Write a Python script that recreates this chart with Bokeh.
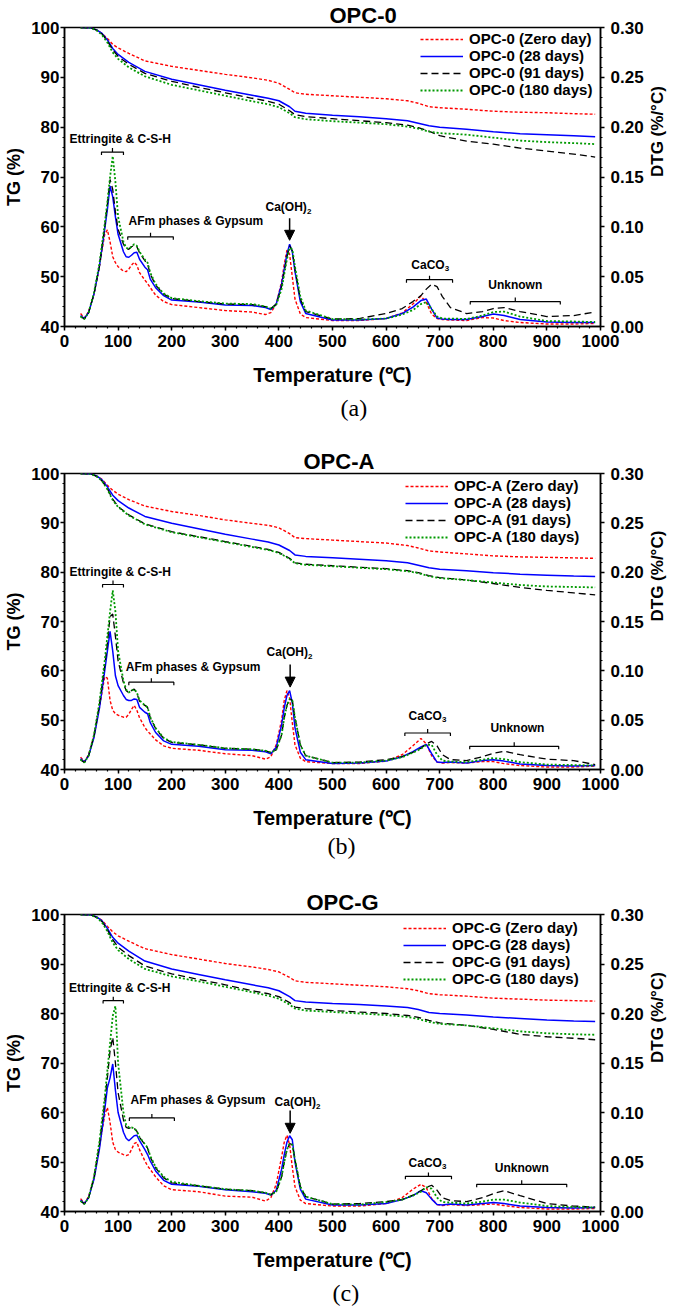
import math
from bokeh.plotting import figure
from bokeh.models import (Range1d, LinearAxis, FixedTicker, PrintfTickFormatter,
                          Label, Legend, LegendItem, Arrow, NormalHead, Title)
from bokeh.layouts import column
from bokeh.embed import file_html
from bokeh.resources import INLINE

# ---------------- data ----------------
TEMP_TG = [30, 50, 60, 70, 80, 90, 100, 120, 150, 200, 250, 300, 350, 380, 400,
           420, 430, 450, 500, 550, 600, 640, 660, 680, 700, 750, 800, 850, 900, 950, 990]
TEMP_DTG = [30, 37, 45, 55, 65, 75, 80, 85, 90, 95, 100, 110, 115, 120, 125, 130, 135,
            140, 150, 155, 160, 170, 185, 200, 250, 300, 350, 375, 385, 395, 405, 410,
            415, 420, 425, 430, 440, 450, 500, 550, 600, 630, 650, 665, 675, 685, 695,
            705, 720, 750, 780, 800, 820, 850, 900, 950, 990]
AGES = ["Zero day", "28 days", "91 days", "180 days"]
X_TICKS = [0, 100, 200, 300, 400, 500, 600, 700, 800, 900, 1000]
TG_TICKS = [40, 50, 60, 70, 80, 90, 100]
DTG_TICKS = [0.00, 0.05, 0.10, 0.15, 0.20, 0.25, 0.30]

# OPC-0 TG (%)
OPC0_TG_ZERO = [100.0, 99.9, 99.5, 98.8, 97.8, 96.6, 95.9, 94.8, 93.3, 92.2, 91.4, 90.6, 89.9, 89.4, 88.8,
                87.6, 86.9, 86.6, 86.3, 86.0, 85.7, 85.3, 84.8, 84.1, 83.9, 83.6, 83.2, 83.0, 82.9, 82.7, 82.6]
OPC0_TG_28 = [100.0, 99.9, 99.5, 98.8, 97.5, 95.8, 94.6, 93.0, 91.2, 89.6, 88.5, 87.4, 86.4, 85.8, 85.3,
              84.1, 83.2, 82.8, 82.4, 82.1, 81.7, 81.3, 80.8, 80.3, 80.0, 79.6, 79.1, 78.7, 78.5, 78.3, 78.1]
OPC0_TG_91 = [100.0, 99.9, 99.5, 98.7, 97.3, 95.5, 94.2, 92.6, 90.8, 89.2, 88.0, 86.9, 85.8, 85.2, 84.6,
              83.3, 82.5, 82.1, 81.7, 81.3, 80.9, 80.4, 79.9, 79.2, 78.3, 77.2, 76.6, 75.8, 75.2, 74.6, 74.0]
OPC0_TG_180 = [100.0, 99.9, 99.4, 98.5, 97.0, 95.0, 93.7, 92.0, 90.2, 88.5, 87.4, 86.3, 85.2, 84.6, 84.0,
               82.8, 82.0, 81.6, 81.2, 80.9, 80.6, 80.1, 79.7, 79.1, 78.8, 78.5, 77.9, 77.3, 77.0, 76.8, 76.6]
# OPC-0 DTG (%/°C)
OPC0_DTG_ZERO = [0.013, 0.0085, 0.015, 0.0325, 0.060, 0.0925, 0.097, 0.085, 0.070, 0.064,
                 0.060, 0.0555, 0.055, 0.0575, 0.0615, 0.0645, 0.0615, 0.054, 0.0465, 0.043,
                 0.039, 0.0315, 0.025, 0.022, 0.019, 0.016, 0.0145, 0.012, 0.014, 0.0225,
                 0.045, 0.0625, 0.0765, 0.0725, 0.050, 0.0275, 0.0125, 0.009, 0.006, 0.006,
                 0.008, 0.0135, 0.0225, 0.0305, 0.024, 0.0125, 0.008, 0.007, 0.0065, 0.006,
                 0.009, 0.0085, 0.006, 0.004, 0.0025, 0.0025, 0.003]
OPC0_DTG_28 = [0.011, 0.008, 0.014, 0.0325, 0.060, 0.0975, 0.1175, 0.141, 0.130, 0.110,
               0.0925, 0.075, 0.070, 0.0695, 0.0715, 0.074, 0.0745, 0.0675, 0.0595, 0.057,
               0.0475, 0.039, 0.031, 0.0265, 0.0245, 0.0215, 0.021, 0.019, 0.017, 0.0225,
               0.0425, 0.0575, 0.0725, 0.0825, 0.075, 0.055, 0.025, 0.013, 0.0065, 0.0065,
               0.008, 0.013, 0.0195, 0.026, 0.0275, 0.0175, 0.0085, 0.0075, 0.007, 0.007,
               0.010, 0.0125, 0.011, 0.007, 0.0045, 0.004, 0.004]
OPC0_DTG_91 = [0.010, 0.0075, 0.014, 0.0325, 0.060, 0.100, 0.1225, 0.1475, 0.1375, 0.115,
               0.0975, 0.0825, 0.078, 0.0775, 0.080, 0.0815, 0.080, 0.074, 0.066, 0.063,
               0.0525, 0.0415, 0.0325, 0.028, 0.025, 0.0225, 0.022, 0.020, 0.018, 0.0225,
               0.040, 0.055, 0.070, 0.081, 0.076, 0.0575, 0.0275, 0.015, 0.0075, 0.008,
               0.013, 0.018, 0.025, 0.031, 0.0375, 0.0425, 0.040, 0.030, 0.019, 0.013,
               0.015, 0.018, 0.019, 0.015, 0.010, 0.011, 0.0145]
OPC0_DTG_180 = [0.010, 0.0075, 0.014, 0.034, 0.0625, 0.1025, 0.125, 0.150, 0.171, 0.145,
                0.110, 0.085, 0.079, 0.078, 0.080, 0.0825, 0.081, 0.075, 0.067, 0.064,
                0.054, 0.0425, 0.033, 0.0285, 0.0255, 0.023, 0.0225, 0.020, 0.018, 0.0215,
                0.0375, 0.0525, 0.0675, 0.079, 0.0775, 0.060, 0.030, 0.016, 0.0075, 0.007,
                0.008, 0.012, 0.0165, 0.0225, 0.0245, 0.0175, 0.010, 0.008, 0.008, 0.0075,
                0.011, 0.0145, 0.015, 0.010, 0.0055, 0.005, 0.0045]

# OPC-A TG (%)
OPCA_TG_ZERO = [100.0, 99.9, 99.5, 98.8, 97.6, 96.6, 95.8, 94.7, 93.4, 92.3, 91.5, 90.6, 89.9, 89.5, 89.0,
                87.8, 87.0, 86.8, 86.5, 86.2, 85.9, 85.4, 84.9, 84.3, 84.1, 83.7, 83.3, 83.1, 83.0, 82.9, 82.8]
OPCA_TG_28 = [100.0, 99.9, 99.5, 98.7, 97.3, 95.6, 94.5, 93.0, 91.3, 89.9, 88.8, 87.7, 86.7, 86.1, 85.5,
              84.4, 83.5, 83.2, 82.9, 82.6, 82.3, 81.9, 81.4, 80.9, 80.6, 80.3, 79.9, 79.6, 79.4, 79.2, 79.1]
OPCA_TG_91 = [100.0, 99.9, 99.4, 98.5, 96.9, 94.8, 93.3, 91.6, 89.8, 88.2, 87.2, 86.2, 85.2, 84.6, 84.0,
              82.8, 81.9, 81.6, 81.3, 81.0, 80.7, 80.3, 79.9, 79.3, 78.9, 78.4, 77.7, 76.9, 76.3, 75.8, 75.4]
OPCA_TG_180 = [100.0, 99.9, 99.4, 98.5, 96.8, 94.6, 93.2, 91.5, 89.7, 88.1, 87.1, 86.1, 85.1, 84.5, 83.9,
               82.7, 81.8, 81.5, 81.2, 80.9, 80.6, 80.2, 79.8, 79.2, 78.8, 78.4, 77.9, 77.4, 77.1, 77.0, 76.9]
# OPC-A DTG (%/°C)
OPCA_DTG_ZERO = [0.0125, 0.008, 0.015, 0.034, 0.0625, 0.094, 0.0925, 0.070, 0.060, 0.0565,
                 0.055, 0.053, 0.053, 0.056, 0.061, 0.065, 0.060, 0.0525, 0.0425, 0.039,
                 0.036, 0.030, 0.024, 0.0215, 0.0195, 0.016, 0.014, 0.0105, 0.013, 0.025,
                 0.050, 0.070, 0.080, 0.0725, 0.0475, 0.025, 0.0115, 0.008, 0.006, 0.006,
                 0.0085, 0.015, 0.024, 0.0315, 0.026, 0.014, 0.0075, 0.0065, 0.007, 0.0065,
                 0.008, 0.008, 0.006, 0.004, 0.0025, 0.0025, 0.0035]
OPCA_DTG_28 = [0.011, 0.0075, 0.014, 0.0325, 0.0615, 0.100, 0.120, 0.140, 0.120, 0.095,
               0.085, 0.075, 0.071, 0.070, 0.070, 0.0715, 0.071, 0.063, 0.058, 0.0565,
               0.0475, 0.0375, 0.029, 0.0255, 0.0235, 0.020, 0.0195, 0.018, 0.016, 0.0225,
               0.045, 0.0625, 0.075, 0.080, 0.0675, 0.0425, 0.0175, 0.010, 0.006, 0.0065,
               0.0085, 0.013, 0.018, 0.023, 0.0255, 0.016, 0.0075, 0.007, 0.0075, 0.0065,
               0.009, 0.010, 0.0085, 0.0055, 0.004, 0.0035, 0.004]
OPCA_DTG_91 = [0.010, 0.007, 0.014, 0.034, 0.065, 0.105, 0.1275, 0.155, 0.1575, 0.135,
               0.110, 0.0875, 0.080, 0.0775, 0.080, 0.0815, 0.0775, 0.069, 0.065, 0.063,
               0.0525, 0.0415, 0.0315, 0.0275, 0.025, 0.0215, 0.0205, 0.019, 0.017, 0.020,
               0.035, 0.0525, 0.065, 0.0715, 0.070, 0.0525, 0.025, 0.014, 0.007, 0.0075,
               0.010, 0.013, 0.0175, 0.0215, 0.026, 0.0285, 0.024, 0.015, 0.010, 0.009,
               0.013, 0.0165, 0.0185, 0.015, 0.0105, 0.009, 0.005]
OPCA_DTG_180 = [0.010, 0.007, 0.014, 0.035, 0.0675, 0.110, 0.135, 0.160, 0.1815, 0.160,
                0.120, 0.090, 0.081, 0.078, 0.080, 0.0815, 0.078, 0.070, 0.065, 0.063,
                0.053, 0.042, 0.032, 0.028, 0.025, 0.0215, 0.0205, 0.019, 0.017, 0.020,
                0.035, 0.0525, 0.065, 0.0715, 0.070, 0.0525, 0.025, 0.014, 0.007, 0.007,
                0.009, 0.0125, 0.017, 0.021, 0.025, 0.025, 0.015, 0.009, 0.008, 0.0075,
                0.010, 0.0115, 0.0105, 0.0075, 0.005, 0.0045, 0.004]

# OPC-G TG (%)
OPCG_TG_ZERO = [100.0, 99.9, 99.5, 98.8, 97.6, 96.5, 95.7, 94.6, 93.1, 91.9, 91.0, 90.1, 89.4, 88.9, 88.4,
                87.3, 86.6, 86.3, 86.0, 85.7, 85.4, 85.0, 84.6, 84.0, 83.8, 83.5, 83.1, 82.9, 82.7, 82.6, 82.5]
OPCG_TG_28 = [100.0, 99.9, 99.5, 98.7, 97.2, 95.4, 94.2, 92.6, 90.6, 89.0, 87.9, 86.8, 85.8, 85.2, 84.6,
              83.4, 82.6, 82.3, 82.0, 81.8, 81.5, 81.2, 80.8, 80.2, 80.0, 79.7, 79.3, 79.0, 78.7, 78.5, 78.4]
OPCG_TG_91 = [100.0, 99.9, 99.4, 98.6, 96.9, 94.9, 93.4, 91.7, 89.6, 88.0, 86.9, 85.8, 84.6, 84.0, 83.4,
              82.2, 81.3, 81.0, 80.6, 80.3, 80.0, 79.6, 79.2, 78.6, 78.1, 77.6, 76.8, 75.8, 75.3, 75.0, 74.7]
OPCG_TG_180 = [100.0, 99.9, 99.4, 98.4, 96.6, 94.3, 92.8, 91.0, 89.0, 87.5, 86.5, 85.4, 84.3, 83.6, 83.0,
               81.8, 81.0, 80.6, 80.3, 80.0, 79.7, 79.3, 78.9, 78.3, 77.9, 77.6, 77.0, 76.4, 76.0, 75.8, 75.7]
# OPC-G DTG (%/°C)
OPCG_DTG_ZERO = [0.013, 0.0085, 0.015, 0.034, 0.065, 0.0975, 0.105, 0.090, 0.070, 0.0625,
                 0.060, 0.0575, 0.0565, 0.0575, 0.0625, 0.0685, 0.070, 0.0625, 0.051, 0.046,
                 0.0425, 0.035, 0.026, 0.022, 0.020, 0.0155, 0.0145, 0.0105, 0.014, 0.0275,
                 0.055, 0.070, 0.077, 0.0675, 0.045, 0.025, 0.0115, 0.008, 0.0055, 0.0055,
                 0.008, 0.014, 0.0225, 0.0275, 0.024, 0.013, 0.007, 0.006, 0.007, 0.006,
                 0.007, 0.0075, 0.006, 0.004, 0.0025, 0.0025, 0.003]
OPCG_DTG_28 = [0.0115, 0.008, 0.014, 0.0325, 0.0625, 0.1025, 0.125, 0.135, 0.149, 0.1225,
               0.100, 0.080, 0.074, 0.0715, 0.074, 0.0765, 0.077, 0.0715, 0.0625, 0.0575,
               0.051, 0.041, 0.0315, 0.0275, 0.0255, 0.022, 0.020, 0.0185, 0.0165, 0.0215,
               0.0425, 0.0575, 0.070, 0.0765, 0.0725, 0.050, 0.0225, 0.0125, 0.0065, 0.0065,
               0.008, 0.012, 0.016, 0.021, 0.019, 0.0125, 0.007, 0.0065, 0.0075, 0.0065,
               0.008, 0.009, 0.008, 0.0055, 0.004, 0.0035, 0.004]
OPCG_DTG_91 = [0.0105, 0.0075, 0.014, 0.034, 0.0675, 0.110, 0.135, 0.1625, 0.176, 0.150,
               0.120, 0.0925, 0.085, 0.084, 0.085, 0.084, 0.081, 0.075, 0.0675, 0.064,
               0.055, 0.044, 0.034, 0.029, 0.026, 0.0225, 0.021, 0.019, 0.017, 0.020,
               0.035, 0.050, 0.0625, 0.0685, 0.0675, 0.0525, 0.025, 0.015, 0.0075, 0.008,
               0.010, 0.012, 0.0165, 0.021, 0.0245, 0.0265, 0.0215, 0.014, 0.011, 0.010,
               0.014, 0.018, 0.021, 0.016, 0.008, 0.0055, 0.0045]
OPCG_DTG_180 = [0.0105, 0.0075, 0.014, 0.035, 0.070, 0.115, 0.1425, 0.170, 0.1975, 0.2075,
                0.150, 0.100, 0.0875, 0.085, 0.085, 0.084, 0.081, 0.075, 0.068, 0.0645,
                0.056, 0.045, 0.035, 0.030, 0.026, 0.0225, 0.021, 0.019, 0.017, 0.020,
                0.035, 0.050, 0.0625, 0.0685, 0.0675, 0.0525, 0.025, 0.015, 0.0075, 0.007,
                0.0095, 0.012, 0.016, 0.020, 0.0245, 0.023, 0.014, 0.0095, 0.009, 0.008,
                0.010, 0.012, 0.012, 0.009, 0.0055, 0.0045, 0.004]

# ---------------- styling / layout ----------------
FONT = "Liberation Sans"
STYLES = [dict(line_color="#ff0000", line_dash="3 2", line_width=1.4),
          dict(line_color="#0000ff", line_dash="solid", line_width=1.5),
          dict(line_color="#000000", line_dash="7 4", line_width=1.3),
          dict(line_color="#009a00", line_dash="2 2", line_width=1.8)]
FIG_W = 685
FRAME_L = 64
FRAME_W = 536

PANELS = [
    dict(name="OPC-0", caption="(a)", height=440, top=27, frame_h=299,
         tg=[OPC0_TG_ZERO, OPC0_TG_28, OPC0_TG_91, OPC0_TG_180],
         dtg=[OPC0_DTG_ZERO, OPC0_DTG_28, OPC0_DTG_91, OPC0_DTG_180],
         title_off=265, cap_off=276, cap_stand=11, legend=(356, 228),
         ett=(104, 77.7, 69, 110, 75.0), afm=(245, 61.2, 118, 203, 58.0),
         caoh=(375, 63.9, 420, 61.7, 57.3), caco=(647, 52.4, 638, 724, 49.4),
         unk=(841, 48.4, 757, 925, 45.0)),
    dict(name="OPC-A", caption="(b)", height=440, top=33, frame_h=296,
         tg=[OPCA_TG_ZERO, OPCA_TG_28, OPCA_TG_91, OPCA_TG_180],
         dtg=[OPCA_DTG_ZERO, OPCA_DTG_28, OPCA_DTG_91, OPCA_DTG_180],
         title_off=239, cap_off=263, cap_stand=0, legend=(341, 224),
         ett=(104, 80.0, 71, 110, 77.5), afm=(240, 60.7, 120, 204, 57.7),
         caoh=(377, 63.8, 421, 61.3, 56.7), caco=(642, 50.9, 635, 720, 47.4),
         unk=(845, 48.4, 756, 922, 44.7)),
    dict(name="OPC-G", caption="(c)", height=435, top=34, frame_h=297,
         tg=[OPCG_TG_ZERO, OPCG_TG_28, OPCG_TG_91, OPCG_TG_180],
         dtg=[OPCG_DTG_ZERO, OPCG_DTG_28, OPCG_DTG_91, OPCG_DTG_180],
         title_off=242, cap_off=268, cap_stand=11, legend=(339, 224),
         ett=(103, 85.2, 72, 110, 82.6), afm=(249, 62.6, 121, 205, 58.9),
         caoh=(392, 62.1, 421, 60.4, 55.8), caco=(642, 49.8, 636, 722, 47.1),
         unk=(853, 48.8, 769, 937, 45.5)),
]


def add_text(p, x, y, text, size, align="center", xo=0, yo=0):
    p.add_layout(Label(x=x, y=y, text=text, text_font=FONT, text_font_size=f"{size}px",
                       text_font_style="bold", text_align=align, text_baseline="middle",
                       x_offset=xo, y_offset=yo, text_color="black"))


def bracket(p, x0, x1, y):
    xm = (x0 + x1) / 2
    p.multi_line(xs=[[x0, x0, x1, x1], [xm, xm]],
                 ys=[[y - 0.6, y, y, y - 0.6], [y, y + 0.8]],
                 line_color="black", line_width=1.2)


def style_axis(ax, standoff):
    ax.axis_line_width = 1.5
    ax.major_tick_line_width = 1.5
    ax.minor_tick_line_width = 1.2
    ax.major_tick_out = 4
    ax.major_tick_in = 0
    ax.minor_tick_out = 2
    ax.minor_tick_in = 0
    ax.major_label_text_font = FONT
    ax.major_label_text_font_style = "bold"
    ax.major_label_text_font_size = "17px"
    ax.major_label_text_color = "black"
    ax.major_label_standoff = standoff
    ax.axis_label_text_font = FONT
    ax.axis_label_text_font_style = "bold"
    ax.axis_label_text_color = "black"


def make_panel(cfg):
    T, FH, H = cfg["top"], cfg["frame_h"], cfg["height"]
    p = figure(width=FIG_W, height=H, output_backend="svg", toolbar_location=None,
               x_range=Range1d(0, 1000), y_range=Range1d(40, 100),
               min_border_left=FRAME_L, min_border_right=FIG_W - FRAME_L - FRAME_W,
               min_border_top=T, min_border_bottom=H - T - FH,
               background_fill_color="white", border_fill_color="white")
    p.extra_y_ranges = {"dtg": Range1d(0, 0.30)}
    p.xgrid.visible = False
    p.ygrid.visible = False
    p.outline_line_color = "black"
    p.outline_line_width = 1.5
    p.outline_line_alpha = 1.0

    # title above, caption below
    p.add_layout(Title(text=cfg["name"], align="left", offset=cfg["title_off"],
                       text_font=FONT, text_font_size="22px", text_font_style="bold",
                       text_color="black", standoff=0, vertical_align="bottom"), "above")

    xa = p.xaxis[0]
    xa.ticker = FixedTicker(ticks=X_TICKS, minor_ticks=[20 * i for i in range(51)])
    style_axis(xa, 4)
    xa.axis_label = "Temperature (℃)"
    xa.axis_label_text_font_size = "20px"
    xa.axis_label_standoff = 14

    p.add_layout(Title(text=cfg["caption"], align="left", offset=cfg["cap_off"],
                       text_font="Liberation Serif", text_font_size="24px",
                       text_font_style="normal", text_color="black",
                       standoff=cfg["cap_stand"], vertical_align="middle"), "below")

    ya = p.yaxis[0]
    ya.ticker = FixedTicker(ticks=TG_TICKS, minor_ticks=[40 + 2 * i for i in range(31)])
    style_axis(ya, 1)
    ya.axis_label = "TG (%)"
    ya.axis_label_text_font_size = "18px"
    ya.axis_label_standoff = 4

    ra = LinearAxis(y_range_name="dtg",
                    ticker=FixedTicker(ticks=DTG_TICKS,
                                       minor_ticks=[round(0.01 * i, 2) for i in range(31)]),
                    formatter=PrintfTickFormatter(format="%.2f"))
    style_axis(ra, 6)
    ra.axis_label = "DTG (%/°C)"
    ra.axis_label_text_font_size = "17px"
    ra.axis_label_standoff = 11
    if "axis_label_orientation" in ra.properties():
        ra.axis_label_orientation = math.pi / 2
    p.add_layout(ra, "right")

    for dtg, st in zip(cfg["dtg"], STYLES):
        p.line(TEMP_DTG, dtg, y_range_name="dtg", **st)
    tg_rs = []
    for tg, st in zip(cfg["tg"], STYLES):
        tg_rs.append(p.line(TEMP_TG, tg, **st))

    items = [LegendItem(label=f"{cfg['name']} ({age})", renderers=[r])
             for age, r in zip(AGES, tg_rs)]
    leg = Legend(items=items, location=cfg["legend"], label_text_font=FONT,
                 label_text_font_style="bold", label_text_font_size="15px",
                 label_text_color="black",
                 glyph_width=43, glyph_height=16, label_height=16, label_standoff=6,
                 spacing=0, padding=0, margin=0, border_line_alpha=0,
                 background_fill_alpha=0)
    p.add_layout(leg)

    # annotations
    tx, ty, b0, b1, by = cfg["ett"]
    add_text(p, tx, ty, "Ettringite & C-S-H", 12)
    bracket(p, b0, b1, by)
    tx, ty, b0, b1, by = cfg["afm"]
    add_text(p, tx, ty, "AFm phases & Gypsum", 12)
    bracket(p, b0, b1, by)
    tx, ty, ax, ay0, ay1 = cfg["caoh"]
    add_text(p, tx, ty, "Ca(OH)", 12, align="left")
    add_text(p, tx, ty, "2", 8, align="left", xo=41.5, yo=-4)
    p.add_layout(Arrow(end=NormalHead(size=10, fill_color="black", line_color="black"),
                       x_start=ax, y_start=ay0, x_end=ax, y_end=ay1,
                       line_color="black", line_width=1.5))
    tx, ty, b0, b1, by = cfg["caco"]
    add_text(p, tx, ty, "CaCO", 12, align="left")
    add_text(p, tx, ty, "3", 8, align="left", xo=33.5, yo=-4)
    bracket(p, b0, b1, by)
    tx, ty, b0, b1, by = cfg["unk"]
    add_text(p, tx, ty, "Unknown", 12)
    bracket(p, b0, b1, by)
    return p


layout = column(*[make_panel(c) for c in PANELS])
open("out.html", "w").write(file_html(layout, INLINE))
